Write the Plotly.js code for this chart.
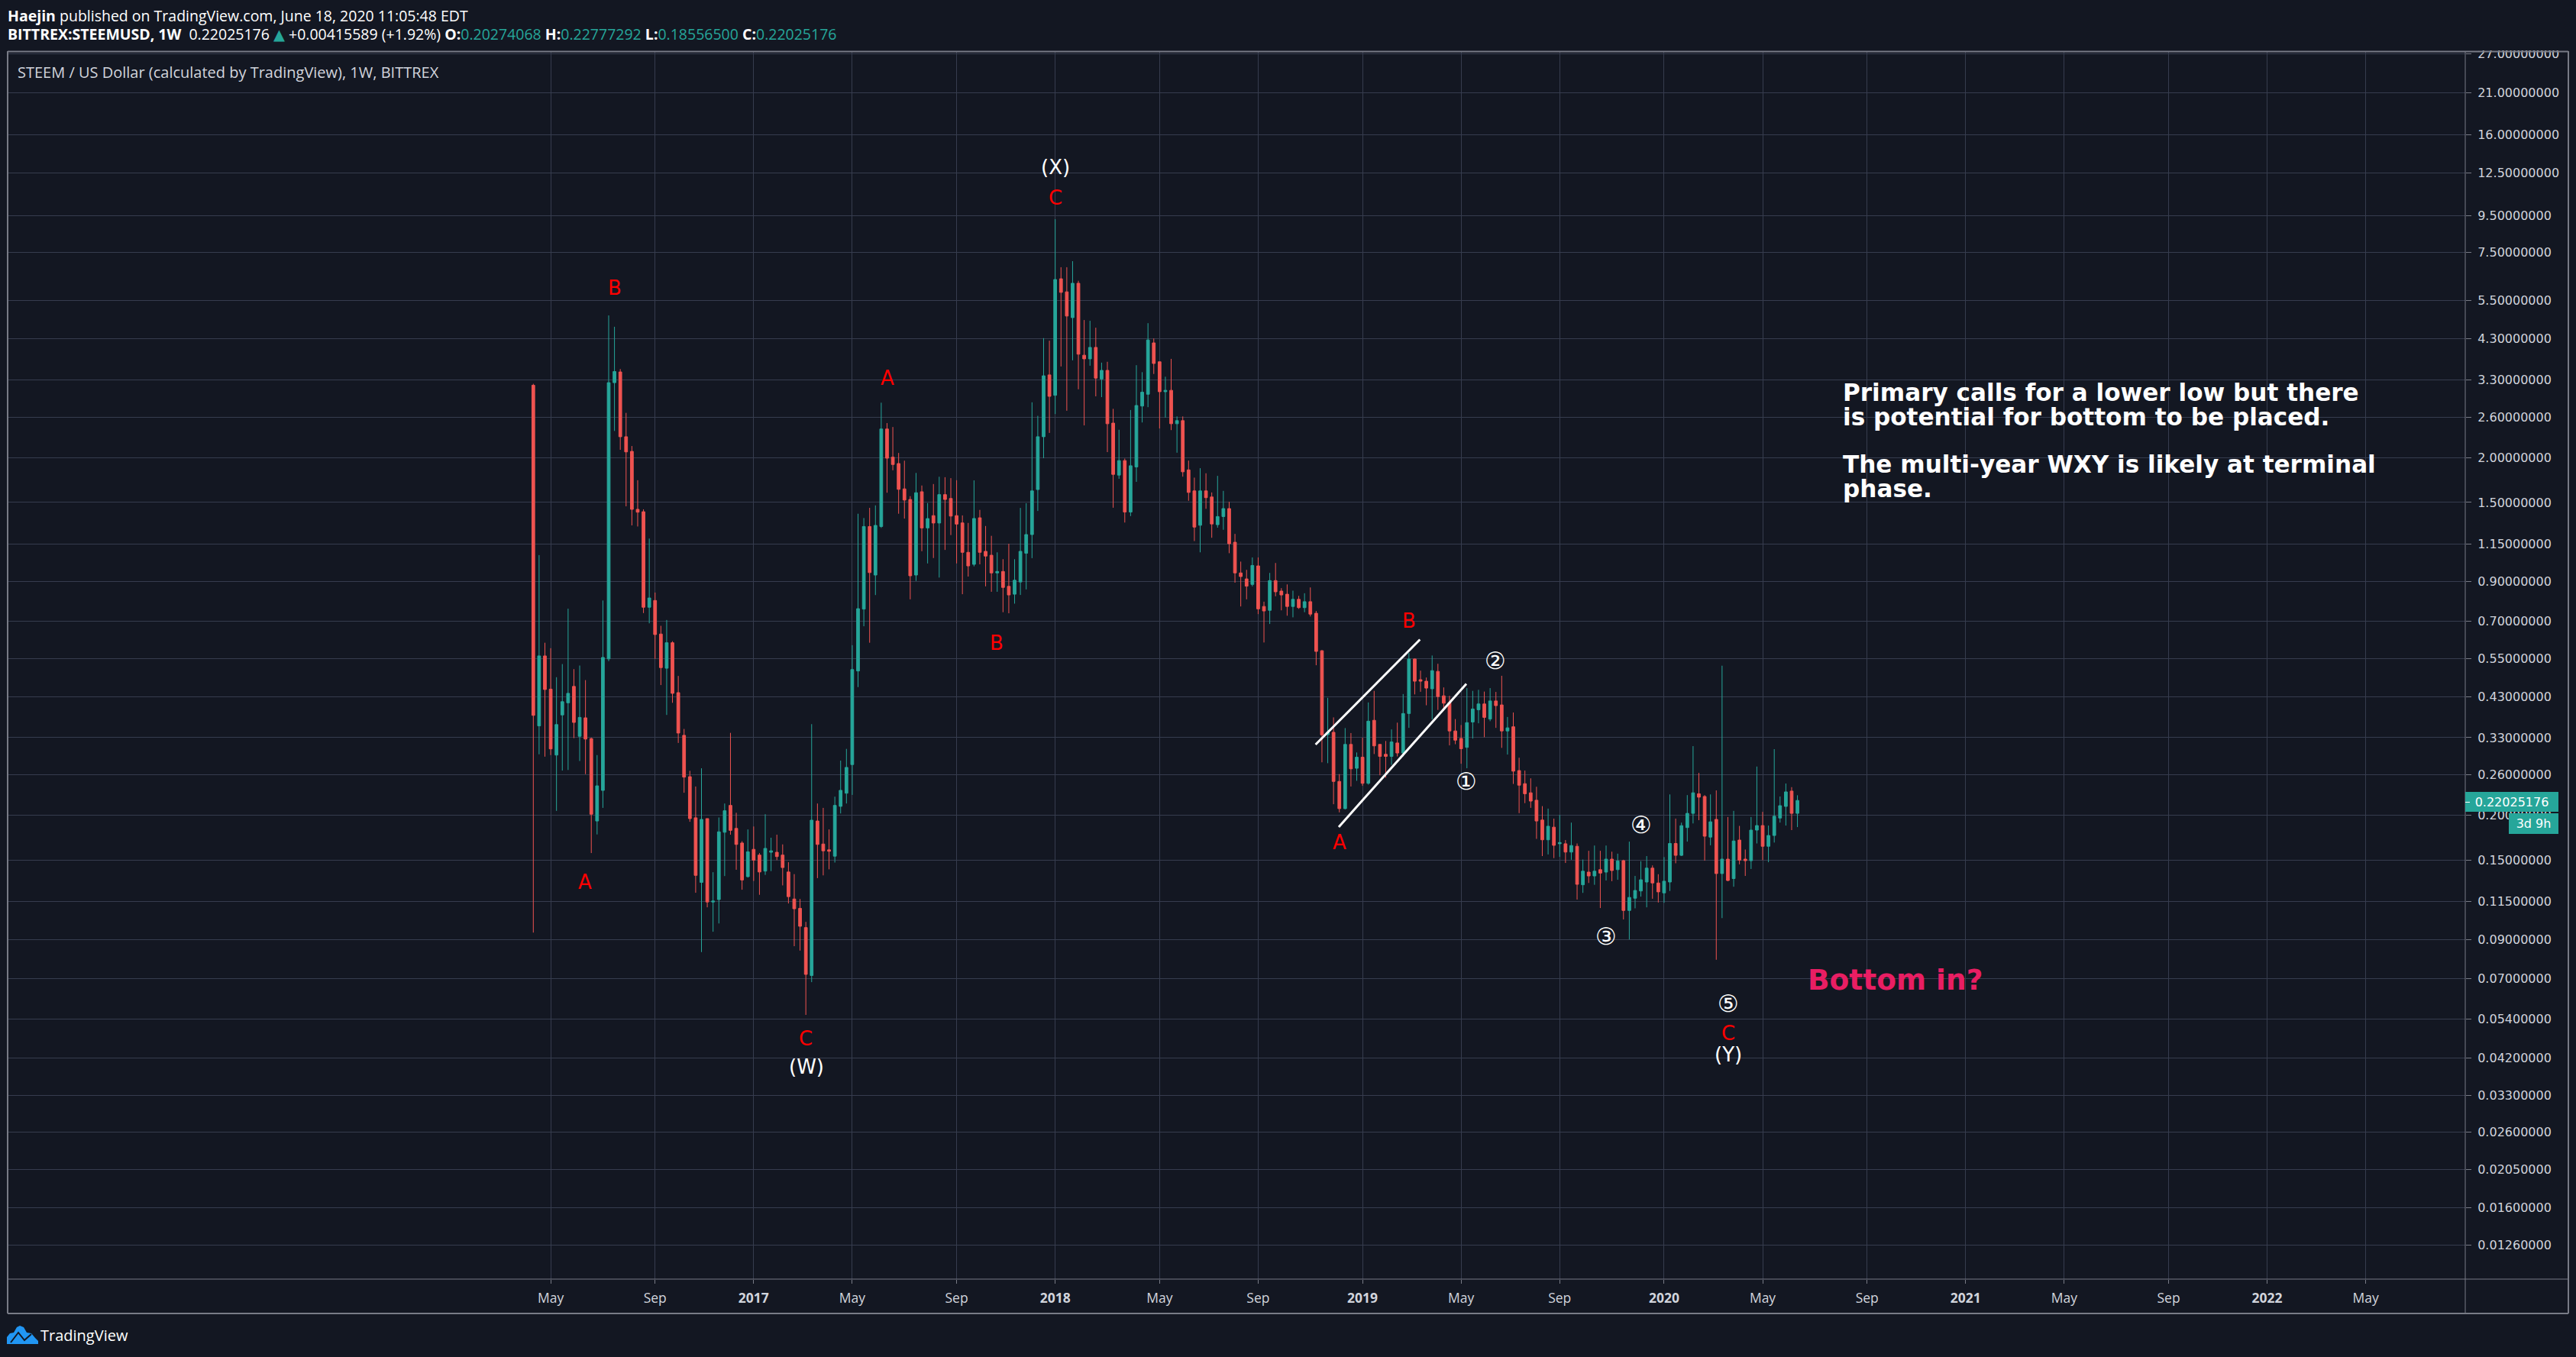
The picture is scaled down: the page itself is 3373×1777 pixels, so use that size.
<!DOCTYPE html>
<html>
<head>
<meta charset="utf-8">
<script src="https://cdn.plot.ly/plotly-3.0.1.min.js"></script>
<style>html,body{margin:0;padding:0;background:#131722;}#chart{width:3373px;height:1777px;}</style>
</head>
<body>
<div id="chart"></div>
<script>
// Weekly STEEM/USD candles, first bar is the week of 2016-04-11
const firstWeek = Date.UTC(2016, 3, 11);

const opens = [
3.19,.356,.5586,.451,.295,.382,.413,.459,.333,.375,
.328,.193,.235,.548,3.243,3.475,2.29,2.084,1.435,1.413,
.764,.798,.643,.516,.608,.441,.335,.2567,.197,.13,
.196,.1146,.1164,.1795,.2134,.184,.1675,.1349,.1608,.155,
.1398,.1578,.1578,.155,.139,.1168,.11,.0972,.0714,.193,
.1664,.1603,.1539,.2121,.2308,.2775,.507,.755,1.285,.94,
1.285,2.407,2.008,1.927,1.637,1.529,.94,1.607,1.273,1.378,
1.314,1.578,1.539,1.378,1.315,1.088,1.007,1.359,1.095,1.068,
.953,.962,.874,.831,.899,1.082,1.22,1.63,2.29,3.41,
2.99,6.33,5.82,4.93,6.15,3.87,3.78,4.07,3.32,3.51,
2.5,1.789,1.964,1.41,1.885,2.79,3.01,4.19,3.71,3.06,
3.087,2.49,2.54,1.85,1.616,1.295,1.616,1.554,1.3,1.37,
1.442,1.161,.953,.917,.885,.997,.768,.749,.907,.848,
.831,.768,.804,.762,.792,.735,.5775,.3365,.3416,.249,
.209,.316,.271,.291,.246,.369,.316,.2965,.2925,.319,
.299,.3855,.5476,.4793,.4746,.452,.5057,.432,.4136,.3446,
.3283,.31,.365,.395,.41,.372,.418,.4074,.3446,.354,
.267,.2454,.2314,.2206,.1942,.171,.1855,.1667,.1667,.158,
.164,.128,.1389,.1355,.1411,.1389,.151,.1411,.1495,.1085,
.1174,.123,.1303,.1425,.1295,.1215,.1303,.167,.1547,.185,
.2027,.23,.226,.174,.195,.1376,.151,.1332,.1707,.151,
.1495,.182,.1874,.164,.1758,.1967,.212,.234,.20274068];

const highs = [
3.22,1.069,.608,.587,.487,.53,.757,.513,.525,.478,
.33,.295,.798,5.0,4.648,3.54,2.67,2.157,1.731,1.435,
1.189,.84,.678,.704,.614,.491,.349,.2666,.241,.271,
.196,.1388,.1974,.216,.3404,.2035,.1695,.1828,.1863,.157,
.2016,.1733,.1767,.166,.148,.1371,.1168,.1008,.36,.216,
.21,.1828,.2257,.2847,.307,.5985,1.395,1.357,1.449,1.472,
2.851,2.5,2.438,2.063,1.963,1.562,1.814,1.673,1.494,1.689,
1.77,1.765,1.754,1.731,1.38,1.315,1.729,1.43,1.289,1.21,
1.088,1.041,1.15,1.041,1.448,1.493,2.858,2.62,4.32,4.25,
9.29,6.82,6.82,7.09,6.25,4.853,4.83,4.62,3.69,3.71,
2.74,2.395,1.99,2.72,3.63,3.47,4.757,4.31,3.71,3.37,
3.78,2.61,2.61,1.964,1.76,1.87,1.81,1.6,1.78,1.616,
1.506,1.225,1.025,.972,1.053,1.053,.792,.953,1.016,.864,
.885,.85,.822,.836,.868,.746,.58,.4265,.376,.261,
.351,.34,.3,.33,.414,.446,.316,.323,.348,.3635,
.437,.569,.549,.508,.486,.56,.531,.456,.432,.372,
.358,.454,.446,.449,.444,.454,.443,.4915,.377,.388,
.29,.267,.254,.2406,.2124,.209,.196,.2007,.1707,.191,
.167,.1506,.1593,.1648,.1593,.1648,.1584,.1564,.1504,.169,
.1355,.149,.154,.145,.137,.153,.229,.196,.191,.228,
.3125,.263,.228,.229,.235,.5245,.198,.206,.187,.1606,
.198,.274,.2047,.1874,.3065,.226,.2457,.24,.22777292];

const lows = [
.0941,.2965,.292,.295,.206,.267,.268,.329,.284,.261,
.157,.177,.21,.54,2.377,2.105,1.463,1.294,1.285,.736,
.689,.548,.463,.382,.413,.319,.2315,.192,.1216,.083,
.1107,.0946,.0998,.1354,.1767,.141,.124,.1341,.1312,.12,
.1364,.1398,.15,.1275,.1135,.0862,.0838,.0554,.0684,.1336,
.136,.1414,.1477,.2026,.216,.2283,.457,.676,.608,.8265,
1.273,1.597,1.845,1.395,1.352,.804,.905,1.096,1.013,1.049,
.925,1.105,1.216,1.013,.831,.931,.994,1.007,.874,.844,
.844,.74,.735,.782,.827,.857,1.048,1.42,1.994,2.347,
2.65,3.6,2.707,3.745,3.108,2.463,3.617,2.97,2.955,2.074,
1.45,1.747,1.318,1.374,1.713,2.51,2.77,3.43,2.415,2.59,
2.39,2.066,1.771,1.516,1.17,1.088,1.44,1.195,1.275,1.258,
1.082,.895,.768,.804,.874,.731,.609,.686,.82,.749,
.7235,.716,.756,.74,.72,.526,.2816,.28,.215,.204,
.208,.241,.25,.242,.244,.297,.259,.255,.277,.2925,
.2925,.3515,.436,.4434,.4065,.371,.3945,.392,.314,.3164,
.279,.271,.328,.362,.331,.367,.3515,.309,.296,.245,
.203,.2165,.21,.172,.154,.1556,.152,.1532,.1473,.1504,
.1164,.1215,.1295,.128,.1102,.1316,.131,.1322,.1024,.09,
.11,.1186,.1107,.117,.1142,.114,.123,.147,.154,.169,
.19,.194,.1495,.165,.079,.1033,.131,.1264,.146,.1355,
.1417,.167,.15,.148,.168,.191,.1874,.182,.18556];

const closes = [
.381,.5586,.45,.307,.359,.416,.439,.364,.376,.327,
.2016,.242,.553,3.243,3.485,2.29,2.077,1.435,1.409,.764,
.811,.641,.518,.608,.439,.34,.256,.196,.136,.195,
.1146,.1153,.18,.2062,.1817,.166,.132,.1583,.15,.139,
.1618,.1593,.1535,.143,.1186,.1097,.098,.0719,.194,.166,
.1593,.1588,.2134,.2351,.2725,.5116,.757,1.285,.955,1.294,
2.407,1.994,1.915,1.632,1.523,.9355,1.597,1.273,1.352,1.314,
1.578,1.529,1.374,1.305,1.088,.997,1.353,1.088,1.062,.953,
.962,.868,.827,.909,1.095,1.22,1.616,2.29,3.39,2.97,
6.3,5.8,4.98,6.15,3.896,3.78,4.07,3.34,3.51,2.49,
1.797,1.964,1.41,1.9,2.8,3.05,4.27,3.67,3.06,3.087,
2.49,2.54,1.827,1.6,1.28,1.616,1.547,1.306,1.37,1.442,
1.15,.953,.931,.875,1.0,.756,.746,.907,.844,.827,
.768,.804,.762,.792,.731,.575,.336,.3416,.249,.209,
.316,.27,.291,.246,.367,.313,.2925,.2925,.321,.299,
.3855,.5476,.4746,.4746,.454,.508,.43,.412,.3446,.3247,
.3073,.3635,.397,.41,.376,.418,.4056,.3446,.3515,.266,
.243,.23,.2194,.193,.171,.1866,.165,.168,.158,.1648,
.1284,.1397,.1355,.1397,.138,.151,.1403,.1492,.1085,.118,
.1234,.1322,.1425,.1295,.1223,.131,.167,.1547,.1873,.2027,
.2314,.225,.175,.192,.1376,.151,.1316,.1697,.15,.1495,
.182,.1874,.164,.1758,.199,.213,.2328,.2027,.22025176];

// Time-axis ticks, as bar numbers counted from the first candle
const timeTickBars = [3,21,38,55,73,90,108,125,143,160,177,195,212,230,247,264,282,299,316];
const timeTickText = ['May','Sep','<b>2017</b>','May','Sep','<b>2018</b>','May','Sep','<b>2019</b>','May','Sep','<b>2020</b>','May','Sep','<b>2021</b>','May','Sep','<b>2022</b>','May'];

const priceTicks = [27,21,16,12.5,9.5,7.5,5.5,4.3,3.3,2.6,2,1.5,1.15,.9,.7,.55,.43,.33,.26,.2,.15,.115,.09,.07,.054,.042,.033,.026,.0205,.016,.0126];

// Channel lines drawn on the chart (bar number, price)
const channelUpperBars = [134.9,152.9];
const channelUpperPrices = [.3156,.6205];
const channelLowerBars = [138.9,160.9];
const channelLowerPrices = [.1857,.4667];

const BG = '#131722', GRID = '#363c4e', FRAME = '#787b86', TXT = '#d1d4dc';
const UP = '#26a69a', DOWN = '#ef5350', RED = '#ff0000', PINK = '#e91e63';
const MONO = '"DejaVu Sans"', UI = '"Open Sans"';

// Page geometry of the plot area
const L = 11, R = 3228, T = 68, B = 1675;
const px = v => (v - L) / (R - L);
const py = v => (B - v) / (B - T);
const barMs = b => firstWeek + b * 7 * 864e5;
const barDate = b => new Date(barMs(b)).toISOString().slice(0, 19);
const BAR0 = 698.3, BARPX = 7.593;

const dates = opens.map((_, i) => barDate(i));

function note(text, x, y, o) {
  return Object.assign({
    text, xref: 'paper', yref: 'paper', x: px(x), y: py(y),
    xanchor: 'center', yanchor: 'middle', showarrow: false,
    borderpad: 0, borderwidth: 0,
    font: {family: MONO, size: 26, color: RED}
  }, o || {});
}
const white = {font: {family: MONO, size: 26, color: '#ffffff'}};
const circ = {font: {family: MONO, size: 31, color: '#ffffff'}};
const body = {xanchor: 'left', font: {family: MONO, size: 31.1, color: '#ffffff'}};
const head = c => ({xanchor: 'left', font: {family: UI, size: 19.5, color: c}});

const greenVal = s => `<span style="color:${UP}">${s}</span>`;
const triangle = `<span style="color:${UP};font-family:'DejaVu Sans'">▲</span>`;

const annotations = [
  // mask clipping the top tick label at the frame
  note('&nbsp;', 3229, 56, {xanchor: 'left', width: 134, height: 20, bgcolor: BG}),
  note('<b>Haejin</b> published on TradingView.com, June 18, 2020 11:05:48 EDT', 10, 20, head('#ffffff')),
  note(`<b>BITTREX:STEEMUSD, 1W</b>  0.22025176 ${triangle} +0.00415589 (+1.92%) <b>O:</b>${greenVal('0.20274068')} <b>H:</b>${greenVal('0.22777292')} <b>L:</b>${greenVal('0.18556500')} <b>C:</b>${greenVal('0.22025176')}`, 10, 45, head('#ffffff')),
  note('STEEM / US Dollar (calculated by TradingView), 1W, BITTREX', 23, 95, {xanchor: 'left', font: {family: UI, size: 20, color: TXT}}),
  note('TradingView', 52.6, 1749, {xanchor: 'left', font: {family: UI, size: 20, color: '#ffffff'}}),

  note('A', 766.4, 1154.8),
  note('B', 804.7, 377.4),
  note('A', 1161.7, 494.8),
  note('C', 1381.5, 258.5),
  note('(X)', 1381.5, 218.8, white),
  note('B', 1305.4, 842),
  note('C', 1055, 1360),
  note('(W)', 1055.7, 1396.7, white),
  note('A', 1753.6, 1102.6),
  note('B', 1844.7, 812.5),
  note('①', 1920.4, 1023.4, circ),
  note('②', 1958.3, 865.3, circ),
  note('③', 2103.4, 1226.2, circ),
  note('④', 2148.5, 1080.4, circ),
  note('⑤', 2262.6, 1314.2, circ),
  note('C', 2262.6, 1352.9),
  note('(Y)', 2262.8, 1381, white),

  note('<b>Primary calls for a lower low but there</b>', 2413, 514, body),
  note('<b>is potential for bottom to be placed.</b>', 2413, 546, body),
  note('<b>The multi-year WXY is likely at terminal</b>', 2413, 608, body),
  note('<b>phase.</b>', 2413, 640, body),
  note('<b>Bottom in?</b>', 2367, 1283, {xanchor: 'left', font: {family: MONO, size: 37.5, color: PINK}}),

  // last-price tag and countdown
  note('0.22025176', 3228, 1050.2, {xanchor: 'left', width: 122, height: 26.4, bgcolor: UP, align: 'center', font: {family: MONO, size: 16, color: '#ffffff'}}),
  note('&nbsp;', 3228, 1050.2, {xanchor: 'left', width: 6, height: 1, bgcolor: '#ffffff', font: {family: MONO, size: 1, color: '#ffffff'}}),
  note('3d 9h', 3285, 1078, {xanchor: 'left', width: 65, height: 27.3, bgcolor: UP, align: 'center', font: {family: MONO, size: 16, color: '#ffffff'}})
];

function pxLine(x0, y0, x1, y1, color, width) {
  return {type: 'line', xref: 'paper', yref: 'paper', x0: px(x0), y0: py(y0), x1: px(x1), y1: py(y1), line: {color, width}, layer: 'above'};
}
function pxPath(points, fill, line) {
  const d = points.map((p, i) => (i ? 'L' : 'M') + px(p[0]) + ',' + py(p[1])).join(' ');
  return {type: 'path', xref: 'paper', yref: 'paper', path: d, fillcolor: fill, line, layer: 'above'};
}

const shapes = [
  pxLine(10, 67.5, 3363, 67.5, FRAME, 2),
  pxLine(3363, 67, 3363, 1720, FRAME, 2),
  pxLine(3363, 1720, 10, 1720, FRAME, 2),
  pxLine(10, 1720, 10, 67, FRAME, 2),
  pxLine(3228, 67, 3228, 1720, FRAME, 1),
  pxLine(10, 1675, 3363, 1675, FRAME, 1),
  // TradingView mark
  pxPath([[9,1760],[9,1751],[13,1746],[18,1745],[22,1738],[26,1736],[31,1738],[35,1745],[41,1746],[46,1752],[50,1756],[50,1760]], '#2196f3', {width: 0}),
  pxPath([[14,1758],[24,1745],[32,1755],[41,1747]], 'rgba(0,0,0,0)', {color: BG, width: 2})
];

const candles = {
  type: 'candlestick', x: dates, open: opens, high: highs, low: lows, close: closes,
  increasing: {line: {color: UP, width: 1}, fillcolor: UP},
  decreasing: {line: {color: DOWN, width: 1}, fillcolor: DOWN},
  whiskerwidth: 0, hoverinfo: 'skip', showlegend: false
};
const channelStyle = {type: 'scatter', mode: 'lines', line: {color: '#ffffff', width: 3}, hoverinfo: 'skip', showlegend: false};
const upperChannel = Object.assign({x: channelUpperBars.map(barDate), y: channelUpperPrices}, channelStyle);
const lowerChannel = Object.assign({x: channelLowerBars.map(barDate), y: channelLowerPrices}, channelStyle);

const layout = {
  width: 3373, height: 1777,
  margin: {l: L, r: 3373 - R, t: T, b: 1777 - B, pad: 0},
  paper_bgcolor: BG, plot_bgcolor: BG,
  showlegend: false, dragmode: false,
  xaxis: {
    type: 'date', rangeslider: {visible: false},
    range: [barDate((L - BAR0) / BARPX), barDate((R - BAR0) / BARPX)],
    tickmode: 'array', tickvals: timeTickBars.map(barDate), ticktext: timeTickText,
    showgrid: true, gridcolor: GRID, gridwidth: 1, zeroline: false, showline: false,
    ticks: 'outside', ticklen: 5, tickcolor: FRAME, tickwidth: 1,
    tickangle: 0, ticklabelstandoff: 4,
    tickfont: {family: UI, size: 17.5, color: TXT}
  },
  yaxis: {
    type: 'log', side: 'right',
    range: [Math.log10(27) - 1605 / 468.4, Math.log10(27) + 2 / 468.4],
    tickmode: 'array', tickvals: priceTicks, ticktext: priceTicks.map(v => v.toFixed(8)),
    showgrid: true, gridcolor: GRID, gridwidth: 1, zeroline: false, showline: false,
    ticks: 'outside', ticklen: 7, tickcolor: FRAME, tickwidth: 1,
    ticklabelstandoff: 5,
    tickfont: {family: MONO, size: 16, color: TXT}
  },
  annotations, shapes
};

Plotly.newPlot('chart', [candles, upperChannel, lowerChannel], layout, {displayModeBar: false, staticPlot: true, responsive: false});
</script>
</body>
</html>
